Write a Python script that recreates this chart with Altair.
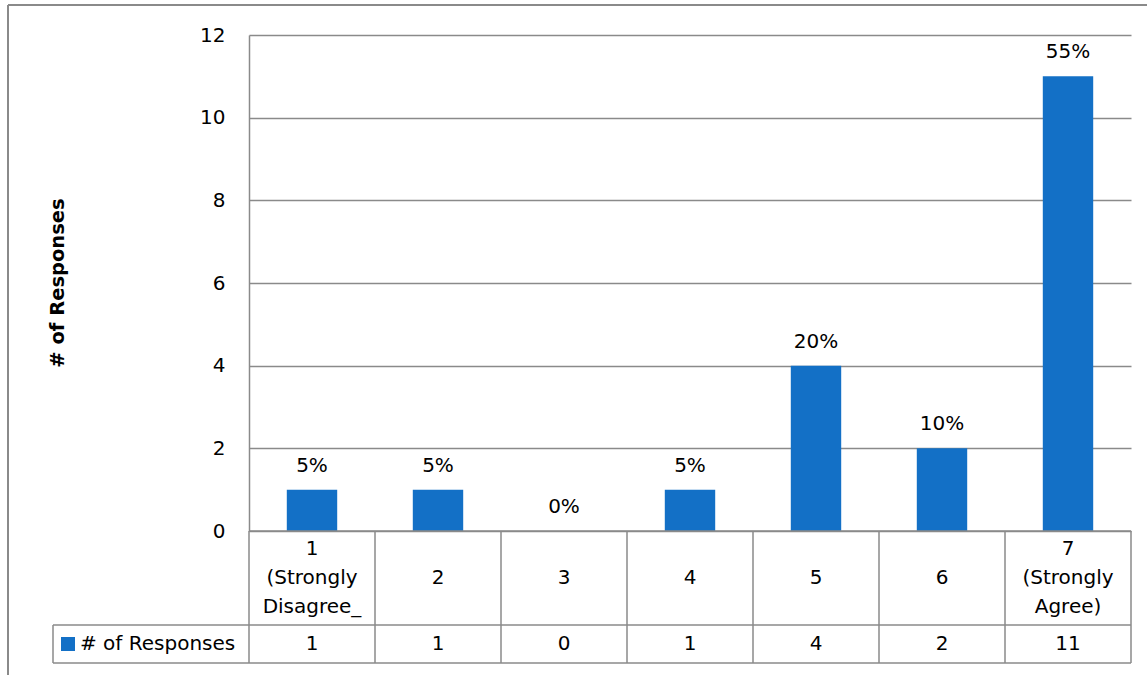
import altair as alt
import pandas as pd

# ---- data ----
categories = ["1\n(Strongly\nDisagree_", "2", "3", "4", "5", "6", "7\n(Strongly\nAgree)"]
responses = [1, 1, 0, 1, 4, 2, 11]
pct_labels = ["5%", "5%", "0%", "5%", "20%", "10%", "55%"]
series_name = "# of Responses"
y_ticks = [0, 2, 4, 6, 8, 10, 12]

df = pd.DataFrame({"cat": categories, "count": responses, "pct": pct_labels})
one = pd.DataFrame({"k": [0]})

W, H = 882, 496
FONT = "DejaVu Sans"
GRAY = "#8a8a8a"
BLUE = "#1370C6"
ROW1 = 94   # height of category row
ROW2 = 38   # height of value row
LEG_LEFT = -196
LH = 29

xenc = alt.X("cat:N", sort=categories, axis=None,
             scale=alt.Scale(paddingInner=0, paddingOuter=0))

bars = alt.Chart(df).mark_bar(width=alt.RelativeBandSize(0.4), color=BLUE).encode(
    x=xenc,
    y=alt.Y("count:Q", scale=alt.Scale(domain=[0, 12]),
            axis=alt.Axis(values=y_ticks, title=None, grid=True, gridColor=GRAY,
                          gridWidth=1.5, domain=True, domainColor=GRAY, domainWidth=1.5,
                          ticks=False, labelPadding=24, labelFontSize=20, labelFont=FONT,
                          labelColor="black")),
)

pct = alt.Chart(df).mark_text(dy=-24, baseline="middle", fontSize=20, font=FONT,
                              color="black").encode(
    x=xenc, y=alt.Y("count:Q"), text="pct:N")

# data table grid
vlines = alt.Chart(df).mark_rule(color=GRAY, strokeWidth=1.5).encode(
    x=alt.X("cat:N", sort=categories, axis=None, bandPosition=0),
    y=alt.value(H), y2=alt.value(H + ROW1 + ROW2))
right_line = alt.Chart(one).mark_rule(color=GRAY, strokeWidth=1.5).encode(
    x=alt.value(W), y=alt.value(H), y2=alt.value(H + ROW1 + ROW2))
leg_left = alt.Chart(one).mark_rule(color=GRAY, strokeWidth=1.5).encode(
    x=alt.value(LEG_LEFT), y=alt.value(H + ROW1), y2=alt.value(H + ROW1 + ROW2))
hline_top = alt.Chart(one).mark_rule(color=GRAY, strokeWidth=1.5).encode(
    x=alt.value(0), x2=alt.value(W), y=alt.value(H))
hline_mid = alt.Chart(one).mark_rule(color=GRAY, strokeWidth=1.5).encode(
    x=alt.value(LEG_LEFT), x2=alt.value(W), y=alt.value(H + ROW1))
hline_bot = alt.Chart(one).mark_rule(color=GRAY, strokeWidth=1.5).encode(
    x=alt.value(LEG_LEFT), x2=alt.value(W), y=alt.value(H + ROW1 + ROW2))

cat_single = alt.Chart(df).transform_filter(
    "indexof(datum.cat, '\\n') < 0"
).mark_text(fontSize=20, font=FONT, baseline="middle", color="black").encode(
    x=xenc, y=alt.value(H + ROW1 / 2), text="cat:N")
cat_multi = alt.Chart(df).transform_filter(
    "indexof(datum.cat, '\\n') >= 0"
).mark_text(lineBreak="\n", lineHeight=LH, fontSize=20, font=FONT,
            baseline="middle", color="black").encode(
    x=xenc, y=alt.value(H + ROW1 / 2 - LH), text="cat:N")
val_text = alt.Chart(df).mark_text(fontSize=20, font=FONT, baseline="middle",
                                   color="black").encode(
    x=xenc, y=alt.value(H + ROW1 + ROW2 / 2), text="count:Q")

swatch = alt.Chart(one).mark_rect(color=BLUE).encode(
    x=alt.value(-188), x2=alt.value(-174),
    y=alt.value(H + ROW1 + 12), y2=alt.value(H + ROW1 + 26))
leg_text = alt.Chart(one).mark_text(fontSize=20, font=FONT, align="left", baseline="middle",
                                    color="black").encode(
    x=alt.value(-169), y=alt.value(H + ROW1 + ROW2 / 2), text=alt.value(series_name))

ytitle = alt.Chart(one).mark_text(fontSize=19.5, font=FONT, fontWeight="bold", angle=270,
                                  align="center", baseline="middle", color="black").encode(
    x=alt.value(-191), y=alt.value(H / 2), text=alt.value(series_name))

# outer chart border (top and left visible)
border_left = alt.Chart(one).mark_rule(color=GRAY, strokeWidth=2).encode(
    x=alt.value(-241), y=alt.value(-30), y2=alt.value(640))
border_top = alt.Chart(one).mark_rule(color=GRAY, strokeWidth=2).encode(
    x=alt.value(-241), x2=alt.value(898), y=alt.value(-30))

chart = alt.layer(
    border_left, border_top, bars, pct, vlines, right_line, leg_left,
    hline_top, hline_mid, hline_bot, cat_single, cat_multi, val_text, swatch, leg_text, ytitle
).properties(
    width=W, height=H,
    autosize=alt.AutoSizeParams(type="none"),
    padding={"left": 249, "top": 35, "right": 16, "bottom": 144},
    background="white",
).configure_view(stroke=None)

chart.save("out.html", embed_options={"renderer": "svg", "actions": False})
